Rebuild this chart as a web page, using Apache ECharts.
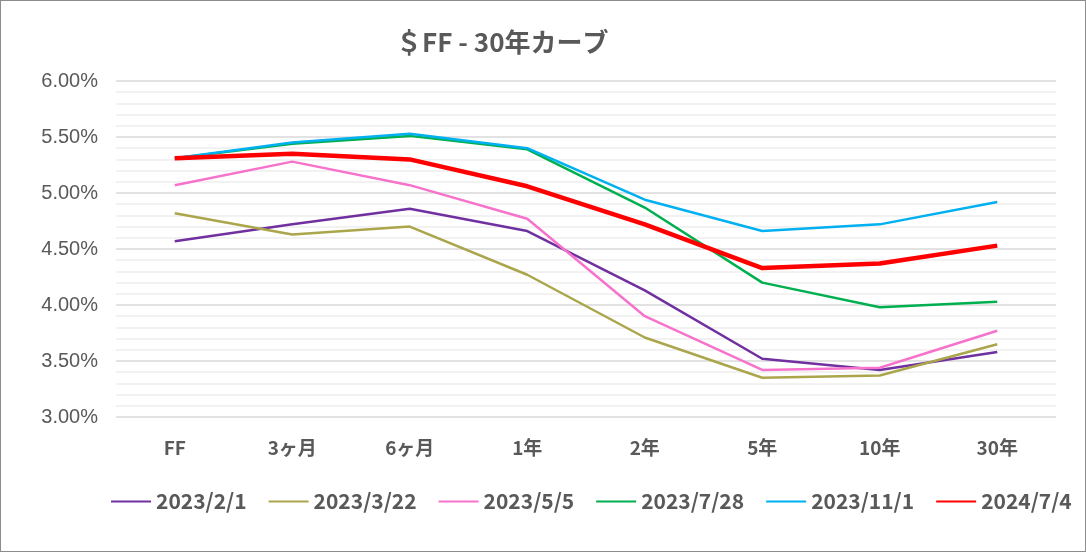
<!DOCTYPE html>
<html><head><meta charset="utf-8">
<script src="https://cdn.jsdelivr.net/npm/echarts@6/dist/echarts.min.js"></script>
<style>html,body{margin:0;padding:0;background:#fff}#c{width:1084px;height:550px;border:1px solid #8c8c8c}</style>
</head><body><div id="c"></div>
<script>
const categories = ['FF','3ヶ月','6ヶ月','1年','2年','5年','10年','30年'];
const seriesNames = ['2023/2/1','2023/3/22','2023/5/5','2023/7/28','2023/11/1','2024/7/4'];
const s20230201 = [4.57,4.72,4.86,4.66,4.13,3.52,3.42,3.58];
const s20230322 = [4.82,4.63,4.70,4.27,3.71,3.35,3.37,3.65];
const s20230505 = [5.07,5.28,5.07,4.77,3.90,3.42,3.44,3.77];
const s20230728 = [5.31,5.44,5.51,5.39,4.87,4.20,3.98,4.03];
const s20231101 = [5.31,5.45,5.53,5.40,4.94,4.66,4.72,4.92];
const s20240704 = [5.31,5.35,5.30,5.06,4.72,4.33,4.37,4.53];
const colors = ['#7030A0','#ABA54C','#F773CB','#00B050','#00B0F0','#FF0000'];
const widths = [2.5,2.5,2.5,2.5,2.5,4.5];
const allData = [s20230201,s20230322,s20230505,s20230728,s20231101,s20240704];
const font = '"Noto Sans CJK JP","Noto Sans",sans-serif';
const chart = echarts.init(document.getElementById('c'));
chart.setOption({
  animation:false,
  title:{text:'＄FF - 30年カーブ',left:390,top:23,textStyle:{fontFamily:font,fontSize:26,fontWeight:'bold',color:'#595959'}},
  grid:{left:115,right:29,top:80,bottom:134},
  legend:{top:485,left:104,itemWidth:40,itemHeight:10,itemGap:21,
    itemStyle:{opacity:0},
    textStyle:{fontFamily:font,fontSize:21,fontWeight:'bold',color:'#595959'},
    data:seriesNames
  },
  xAxis:{type:'category',data:categories,boundaryGap:true,
    axisLine:{show:false},axisTick:{show:false},
    axisLabel:{margin:21,fontFamily:font,fontSize:19,fontWeight:'bold',color:'#595959'}},
  yAxis:{type:'value',min:3,max:6,interval:0.5,
    axisLabel:{formatter:v=>v.toFixed(2)+'%',fontFamily:'"Liberation Sans","Open Sans",sans-serif',fontSize:20,color:'#595959',margin:18},
    splitLine:{lineStyle:{color:'#d9d9d9',width:1.5}},
    minorTick:{show:false,splitNumber:5},
    minorSplitLine:{show:true,lineStyle:{color:'#eeeeee',width:1.5}}},
  series:allData.map((d,i)=>({name:seriesNames[i],type:'line',data:d,symbol:'none',
    lineStyle:{color:colors[i],width:widths[i]},itemStyle:{color:colors[i]},z:i+2}))
});
</script></body></html>
